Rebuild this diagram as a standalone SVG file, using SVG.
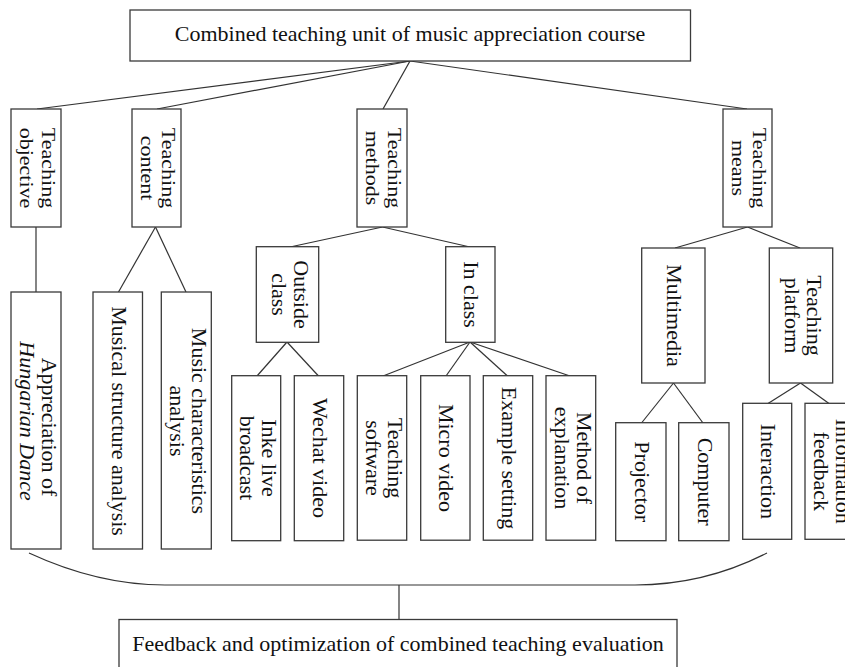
<svg xmlns="http://www.w3.org/2000/svg" width="845" height="667" viewBox="0 0 845 667">
<style>
.box{fill:#fff;stroke:#3a3a3a;stroke-width:1.3}
.t{font-family:"Liberation Serif","Times New Roman",serif;font-size:22px;fill:#111;text-anchor:middle}
.i{font-style:italic}
.c line,.c path{stroke:#333;stroke-width:1.2;fill:none}
</style>
<rect width="845" height="667" fill="#fff"/>
<g class="c" id="connectors">
<line x1="410" y1="61" x2="37" y2="109"/>
<line x1="410" y1="61" x2="157" y2="109"/>
<line x1="410" y1="61" x2="383" y2="109"/>
<line x1="410" y1="61" x2="747" y2="109"/>
<line x1="36" y1="227" x2="36" y2="292"/>
<line x1="155.5" y1="227" x2="118.5" y2="292"/>
<line x1="155.5" y1="227" x2="186" y2="292"/>
<line x1="382.5" y1="227" x2="290" y2="247"/>
<line x1="382.5" y1="227" x2="470" y2="247"/>
<line x1="287" y1="342" x2="257" y2="376"/>
<line x1="287" y1="342" x2="318.5" y2="376"/>
<line x1="470" y1="342" x2="383" y2="376"/>
<line x1="470" y1="342" x2="446" y2="376"/>
<line x1="470" y1="342" x2="507.5" y2="376"/>
<line x1="470" y1="342" x2="570" y2="376"/>
<line x1="747.5" y1="227" x2="675" y2="248"/>
<line x1="747.5" y1="227" x2="800" y2="248"/>
<line x1="673.5" y1="383" x2="641.5" y2="423"/>
<line x1="673.5" y1="383" x2="703" y2="423"/>
<line x1="800.5" y1="383" x2="768" y2="403.5"/>
<line x1="800.5" y1="383" x2="829" y2="403.5"/>
<path d="M29,553 C70,572 115,585 165,585 L635,585 C685,585 730,572 767,553"/>
<line x1="399" y1="585" x2="399" y2="619.5"/>
</g>
<g id="root">
<rect class="box" x="130" y="10" width="560.5" height="51"/>
<text class="t" x="410" y="41">Combined teaching unit of music appreciation course</text>
</g>
<g id="teaching-objective">
<rect class="box" x="11" y="109" width="50" height="118"/>
<text class="t" transform="translate(36,168) rotate(90) scale(1,0.85)" y="-6.8">Teaching</text>
<text class="t" transform="translate(36,168) rotate(90) scale(1,0.85)" y="18.5">objective</text>
</g>
<g id="teaching-content">
<rect class="box" x="132" y="109" width="49" height="118"/>
<text class="t" transform="translate(156.5,168) rotate(90) scale(1,0.85)" y="-6.8">Teaching</text>
<text class="t" transform="translate(156.5,168) rotate(90) scale(1,0.85)" y="18.5">content</text>
</g>
<g id="teaching-methods">
<rect class="box" x="357" y="109" width="50" height="118"/>
<text class="t" transform="translate(382,168) rotate(90) scale(1,0.85)" y="-6.8">Teaching</text>
<text class="t" transform="translate(382,168) rotate(90) scale(1,0.85)" y="18.5">methods</text>
</g>
<g id="teaching-means">
<rect class="box" x="723" y="109" width="49" height="118"/>
<text class="t" transform="translate(747.5,168) rotate(90) scale(1,0.85)" y="-6.8">Teaching</text>
<text class="t" transform="translate(747.5,168) rotate(90) scale(1,0.85)" y="18.5">means</text>
</g>
<g id="appreciation">
<rect class="box" x="11" y="292" width="50" height="257"/>
<text class="t" transform="translate(36,427) rotate(90)" y="-6">Appreciation of</text>
<text class="t i" transform="translate(36,421) rotate(90)" y="16">Hungarian Dance</text>
</g>
<g id="musical-structure">
<rect class="box" x="93" y="292" width="49.5" height="257"/>
<text class="t" transform="translate(117.8,421) rotate(90)" y="6">Musical structure analysis</text>
</g>
<g id="music-characteristics">
<rect class="box" x="161.3" y="292" width="50" height="257"/>
<text class="t" transform="translate(186.3,421) rotate(90)" y="-6">Music characteristics</text>
<text class="t" transform="translate(186.3,421) rotate(90)" y="16">analysis</text>
</g>
<g id="outside-class">
<rect class="box" x="256.3" y="246.7" width="62.4" height="95.6"/>
<text class="t" transform="translate(287.5,294.5) rotate(90)" y="-6">Outside</text>
<text class="t" transform="translate(287.5,294.5) rotate(90)" y="16">class</text>
</g>
<g id="in-class">
<rect class="box" x="445.7" y="246.7" width="49.3" height="95.6"/>
<text class="t" transform="translate(470.3,294.5) rotate(90)" y="6">In class</text>
</g>
<g id="inke">
<rect class="box" x="231.7" y="375.7" width="49" height="165"/>
<text class="t" transform="translate(256.2,458) rotate(90)" y="-6">Inke live</text>
<text class="t" transform="translate(256.2,458) rotate(90)" y="16">broadcast</text>
</g>
<g id="wechat">
<rect class="box" x="294.3" y="375.7" width="49.4" height="165"/>
<text class="t" transform="translate(319,458) rotate(90)" y="6">Wechat video</text>
</g>
<g id="teaching-software">
<rect class="box" x="357.3" y="375.7" width="49.4" height="164.5"/>
<text class="t" transform="translate(382,458) rotate(90)" y="-6">Teaching</text>
<text class="t" transform="translate(382,458) rotate(90)" y="16">software</text>
</g>
<g id="micro-video">
<rect class="box" x="420.7" y="375.7" width="49.3" height="164.5"/>
<text class="t" transform="translate(445.3,458) rotate(90)" y="6">Micro video</text>
</g>
<g id="example-setting">
<rect class="box" x="483.3" y="375.7" width="49.4" height="164.5"/>
<text class="t" transform="translate(508,458) rotate(90)" y="6">Example setting</text>
</g>
<g id="method-explanation">
<rect class="box" x="546" y="375.7" width="49.7" height="164.5"/>
<text class="t" transform="translate(570.8,458) rotate(90)" y="-6">Method of</text>
<text class="t" transform="translate(570.8,458) rotate(90)" y="16">explanation</text>
</g>
<g id="multimedia">
<rect class="box" x="641.7" y="248" width="63.3" height="135"/>
<text class="t" transform="translate(673.3,315.5) rotate(90)" y="6">Multimedia</text>
</g>
<g id="teaching-platform">
<rect class="box" x="769.3" y="248" width="63.4" height="135"/>
<text class="t" transform="translate(801,315.5) rotate(90)" y="-6">Teaching</text>
<text class="t" transform="translate(801,315.5) rotate(90)" y="16">platform</text>
</g>
<g id="projector">
<rect class="box" x="615.7" y="422.7" width="50.3" height="118"/>
<text class="t" transform="translate(640.8,481.7) rotate(90)" y="6">Projector</text>
</g>
<g id="computer">
<rect class="box" x="678.7" y="422.7" width="50.3" height="118"/>
<text class="t" transform="translate(703.8,481.7) rotate(90)" y="6">Computer</text>
</g>
<g id="interaction">
<rect class="box" x="742.7" y="403.3" width="49" height="136"/>
<text class="t" transform="translate(767.2,471.3) rotate(90)" y="6">Interaction</text>
</g>
<g id="information-feedback">
<rect class="box" x="805" y="403.3" width="50" height="136"/>
<text class="t" transform="translate(830,471.3) rotate(90)" y="-6">Information</text>
<text class="t" transform="translate(830,471.3) rotate(90)" y="16">feedback</text>
</g>
<g id="feedback">
<rect class="box" x="119" y="619.5" width="558" height="60"/>
<text class="t" x="398" y="651">Feedback and optimization of combined teaching evaluation</text>
</g>
</svg>
